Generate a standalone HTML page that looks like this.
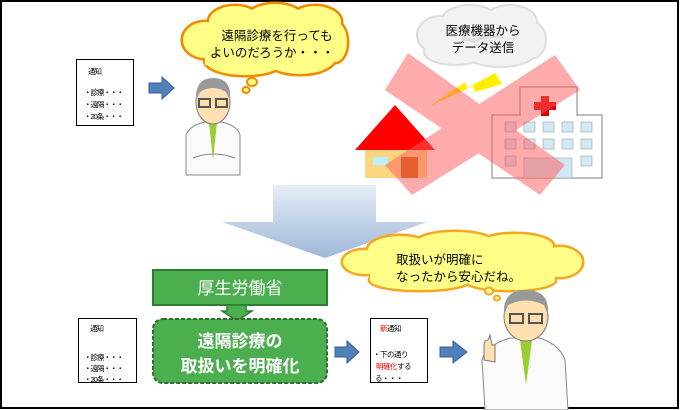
<!DOCTYPE html>
<html><head><meta charset="utf-8"><style>
body{margin:0;width:680px;height:410px;overflow:hidden;background:#fff;font-family:"Liberation Sans","Noto Sans CJK JP",sans-serif}
svg{position:absolute;left:0;top:0}
</style></head><body>
<svg width="680" height="410" viewBox="0 0 680 410" font-family="Liberation Sans, Noto Sans CJK JP, sans-serif">
<defs>
<linearGradient id="bg" x1="0" y1="0" x2="0" y2="1"><stop offset="0" stop-color="#e6edf6"/><stop offset="1" stop-color="#9fb7d8"/></linearGradient>
</defs>
<rect x="1" y="1" width="677" height="407" fill="#fff" stroke="#000" stroke-width="2"/>
<!-- cloud 1 -->
<g stroke="#f08a00" stroke-width="5">
<ellipse cx="205" cy="40" rx="22" ry="18"/><ellipse cx="235" cy="22" rx="26" ry="16"/><ellipse cx="275" cy="18" rx="28" ry="14"/><ellipse cx="315" cy="22" rx="26" ry="16"/><ellipse cx="335" cy="42" rx="12" ry="20"/><ellipse cx="300" cy="58" rx="35" ry="16"/><ellipse cx="245" cy="60" rx="40" ry="15"/>
</g>
<g fill="#ffff88">
<ellipse cx="205" cy="40" rx="22" ry="18"/><ellipse cx="235" cy="22" rx="26" ry="16"/><ellipse cx="275" cy="18" rx="28" ry="14"/><ellipse cx="315" cy="22" rx="26" ry="16"/><ellipse cx="335" cy="42" rx="12" ry="20"/><ellipse cx="300" cy="58" rx="35" ry="16"/><ellipse cx="245" cy="60" rx="40" ry="15"/><rect x="205" y="25" width="125" height="40"/>
</g>
<ellipse cx="252" cy="82" rx="5" ry="4" fill="#ffff88" stroke="#f08a00" stroke-width="2"/>
<ellipse cx="246" cy="90" rx="3.5" ry="3" fill="#ffff88" stroke="#f08a00" stroke-width="2"/>
<text x="277" y="40" font-size="12.5" text-anchor="middle">遠隔診療を行っても</text>
<text x="272" y="57" font-size="12.5" text-anchor="middle">よいのだろうか・・・</text>
<!-- note 1 -->
<rect x="76.5" y="59.5" width="57" height="66" fill="#fff" stroke="#000"/>
<text font-size="7.5" letter-spacing="-1"><tspan x="88" y="74">通知</tspan><tspan x="84" y="95">・診療・・・</tspan><tspan x="84" y="107">・遠隔・・・</tspan><tspan x="84" y="119">・20条・・・</tspan></text>
<polygon points="149,83 162,83 162,77 174,88 162,99 162,93 149,93" fill="#4f81bd" stroke="#385d8a"/>
<!-- doctor1 -->
<path d="M186,175 L186,135 Q190,125 205,122 L222,122 Q238,126 240,135 L240,175 Z" fill="#fafafa" stroke="#888"/>
<polygon points="209,122 213,160 217,122" fill="#9acd32"/>
<ellipse cx="213" cy="102" rx="17" ry="22" fill="#ffe0b0" stroke="#777"/>
<path d="M196,100 Q195,78 213,78 Q232,78 230,100 L226,92 Q213,84 200,92 Z" fill="#999"/>
<rect x="199" y="99" width="11" height="8" fill="none" stroke="#555" stroke-width="2"/><rect x="216" y="99" width="11" height="8" fill="none" stroke="#555" stroke-width="2"/>
<path d="M193,158 Q213,150 235,158" stroke="#888" fill="none"/>
<!-- gray cloud -->
<g stroke="#ddd" stroke-width="4">
<ellipse cx="440" cy="35" rx="22" ry="18"/><ellipse cx="470" cy="22" rx="28" ry="16"/><ellipse cx="510" cy="22" rx="26" ry="16"/><ellipse cx="530" cy="40" rx="15" ry="18"/><ellipse cx="500" cy="52" rx="35" ry="14"/><ellipse cx="455" cy="52" rx="30" ry="12"/>
</g>
<g fill="#f2f2f2">
<ellipse cx="440" cy="35" rx="22" ry="18"/><ellipse cx="470" cy="22" rx="28" ry="16"/><ellipse cx="510" cy="22" rx="26" ry="16"/><ellipse cx="530" cy="40" rx="15" ry="18"/><ellipse cx="500" cy="52" rx="35" ry="14"/><ellipse cx="455" cy="52" rx="30" ry="12"/>
</g>
<text x="483" y="35" font-size="12.5" text-anchor="middle">医療機器から</text>
<text x="483" y="52" font-size="12.5" text-anchor="middle">データ送信</text>
<!-- house -->
<rect x="365" y="150" width="62" height="28" fill="#fcd581"/>
<rect x="373" y="157" width="15" height="8" fill="#bfeefc"/>
<rect x="401" y="157" width="17" height="21" fill="#c9660a"/>
<polygon points="355,150 395,105 435,150" fill="#f00"/>
<!-- hospital -->
<rect x="492" y="115" width="110" height="63" fill="#fff" stroke="#aaa" stroke-width="1.5"/>
<rect x="520" y="87" width="57" height="30" fill="#fff" stroke="#aaa" stroke-width="1.5"/>
<rect x="518" y="116" width="60" height="3" fill="#fff"/>
<path d="M541,96h8v6h7v8h-7v6h-8v-6h-7v-8h7z" fill="#d00"/>
<g fill="#d2e8f6" stroke="#aaa" stroke-width=".7">
<rect x="505" y="122" width="11" height="10"/><rect x="524" y="122" width="11" height="10"/><rect x="543" y="122" width="11" height="10"/><rect x="562" y="122" width="11" height="10"/><rect x="581" y="122" width="11" height="10"/>
<rect x="505" y="139" width="11" height="10"/><rect x="524" y="139" width="11" height="10"/><rect x="543" y="139" width="11" height="10"/><rect x="562" y="139" width="11" height="10"/><rect x="581" y="139" width="11" height="10"/>
<rect x="505" y="156" width="11" height="10"/><rect x="524" y="158" width="48" height="20"/><rect x="581" y="156" width="11" height="10"/>
</g>
<!-- lightning -->
<polygon points="430,106 465,82 467,88 495,73 502,84 475,92 473,86" fill="#ffee00"/>
<!-- red X -->
<g fill="#ff5a5a" opacity=".5">
<polygon points="385,90 408,53 565,165 540,195"/>
<polygon points="555,55 580,90 412,195 385,165"/>
</g>
<!-- big arrow -->
<polygon points="273,185 376,185 376,222 427,222 325,258 222,222 273,222" fill="url(#bg)"/>
<!-- cloud 2 -->
<g stroke="#f5a623" stroke-width="5">
<ellipse cx="365" cy="262" rx="22" ry="12"/><ellipse cx="400" cy="250" rx="32" ry="14"/><ellipse cx="455" cy="244" rx="40" ry="12"/><ellipse cx="515" cy="246" rx="38" ry="12"/><ellipse cx="560" cy="262" rx="22" ry="15"/><ellipse cx="510" cy="280" rx="45" ry="10"/><ellipse cx="420" cy="280" rx="50" ry="10"/>
</g>
<g fill="#ffff88">
<ellipse cx="365" cy="262" rx="22" ry="12"/><ellipse cx="400" cy="250" rx="32" ry="14"/><ellipse cx="455" cy="244" rx="40" ry="12"/><ellipse cx="515" cy="246" rx="38" ry="12"/><ellipse cx="560" cy="262" rx="22" ry="15"/><ellipse cx="510" cy="280" rx="45" ry="10"/><ellipse cx="420" cy="280" rx="50" ry="10"/><rect x="370" y="248" width="185" height="32"/>
</g>
<ellipse cx="489" cy="291" rx="4" ry="3.5" fill="#ffff88" stroke="#f5a623" stroke-width="2"/>
<ellipse cx="497" cy="298" rx="3" ry="2.5" fill="#ffff88" stroke="#f5a623" stroke-width="2"/>
<text x="396" y="264" font-size="12.5">取扱いが明確に</text>
<text x="396" y="281" font-size="12.5">なったから安心だね。</text>
<!-- green header -->
<rect x="153" y="270" width="174" height="35" fill="#4bae4f" stroke="#2e7d32" stroke-width="2"/>
<text x="240" y="294" font-size="17" fill="#fff" text-anchor="middle">厚生労働省</text>
<polygon points="227,305 246,305 246,311 252,311 237,321 222,311 227,311" fill="#4bae4f" stroke="#2e7d32" stroke-width="1.5"/>
<rect x="153" y="319" width="174" height="64" rx="10" fill="#4bae4f" stroke="#2e6b2e" stroke-width="2" stroke-dasharray="4,2"/>
<text x="240" y="347" font-size="17" font-weight="bold" fill="#fff" text-anchor="middle">遠隔診療の</text>
<text x="240" y="372" font-size="17" font-weight="bold" fill="#fff" text-anchor="middle">取扱いを明確化</text>
<!-- note 2 -->
<rect x="78.5" y="318.5" width="58" height="64" fill="#fff" stroke="#000"/>
<text font-size="7.5" letter-spacing="-1"><tspan x="90" y="331">通知</tspan><tspan x="84" y="360">・診療・・・</tspan><tspan x="84" y="371">・遠隔・・・</tspan><tspan x="84" y="382">・20条・・・</tspan></text>
<polygon points="335,347 347,347 347,341 359,352 347,363 347,357 335,357" fill="#4f81bd" stroke="#385d8a"/>
<rect x="370.5" y="318.5" width="57" height="64" fill="#fff" stroke="#000"/>
<text font-size="7.5" letter-spacing="-0.5"><tspan x="380" y="331" fill="#e00">新</tspan><tspan fill="#000">通知</tspan><tspan x="373" y="357">・下の通り</tspan><tspan x="376" y="369" fill="#e00">明確化</tspan><tspan>する</tspan><tspan x="375" y="381">る・・・</tspan></text>
<polygon points="440,347 453,347 453,341 467,352 453,363 453,357 440,357" fill="#4f81bd" stroke="#385d8a"/>
<!-- doctor2 -->
<path d="M485,410 L482,360 Q486,345 510,338 L540,338 Q560,345 565,360 L568,410 Z" fill="#fafafa" stroke="#888"/>
<polygon points="520,340 526,385 532,340" fill="#9acd32"/>
<path d="M484,360 L484,345 Q484,340 488,340 L490,335 L492,345 L495,345 L495,362 Z" fill="#ffe0b0" stroke="#777"/>
<ellipse cx="526" cy="317" rx="22" ry="24" fill="#ffe0b0" stroke="#777"/>
<path d="M504,315 Q502,290 526,290 Q550,290 548,315 L544,305 Q526,296 508,305 Z" fill="#999"/>
<rect x="510" y="314" width="13" height="9" fill="none" stroke="#555" stroke-width="2"/><rect x="529" y="314" width="13" height="9" fill="none" stroke="#555" stroke-width="2"/>
</svg>
</body></html>
